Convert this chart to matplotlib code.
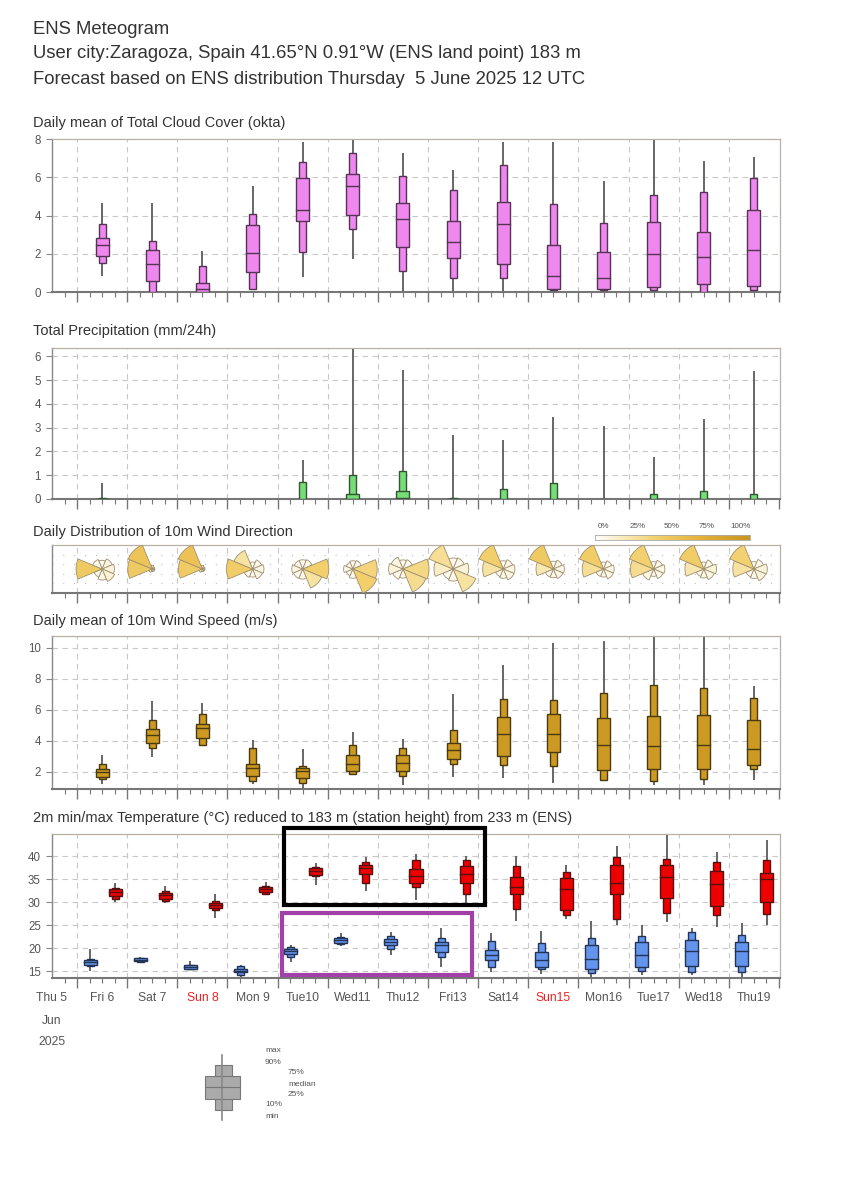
import matplotlib
matplotlib.use('Agg')
import matplotlib.pyplot as plt
import numpy as np
from matplotlib.patches import Rectangle
from matplotlib.colors import LinearSegmentedColormap
import matplotlib.transforms as mtransforms

plt.rcParams['font.family'] = ['Liberation Sans', 'DejaVu Sans']

# ---------------- data ----------------
day_labels = ['Thu 5', 'Fri 6', 'Sat 7', 'Sun 8', 'Mon 9', 'Tue10', 'Wed11', 'Thu12',
              'Fri13', 'Sat14', 'Sun15', 'Mon16', 'Tue17', 'Wed18', 'Thu19']
red_days = ['Sun 8', 'Sun15']

# stats per day (Fri6..Thu19): min, p10, p25, median, p75, p90, max
cloud = [
    (0.84, 1.54, 1.89, 2.47, 2.84, 3.54, 4.67),
    (0.00, 0.00, 0.58, 1.44, 2.19, 2.68, 4.64),
    (0.00, 0.00, 0.00, 0.15, 0.49, 1.37, 2.14),
    (0.10, 0.18, 1.05, 2.05, 3.50, 4.06, 5.53),
    (0.79, 2.07, 3.71, 4.29, 5.95, 6.78, 7.85),
    (1.75, 3.29, 4.03, 5.55, 6.18, 7.27, 8.00),
    (0.00, 1.10, 2.36, 3.80, 4.64, 6.04, 7.27),
    (0.00, 0.74, 1.79, 2.59, 3.71, 5.34, 6.36),
    (0.05, 0.75, 1.49, 3.56, 4.73, 6.65, 7.83),
    (0.00, 0.10, 0.18, 0.82, 2.45, 4.59, 7.85),
    (0.00, 0.10, 0.18, 0.74, 2.10, 3.63, 5.83),
    (0.00, 0.10, 0.26, 1.98, 3.64, 5.08, 8.00),
    (0.00, 0.00, 0.40, 1.84, 3.15, 5.22, 6.83),
    (0.00, 0.10, 0.30, 2.19, 4.29, 5.95, 7.06),
]

precip = [
    (0, 0, 0, 0, 0.01, 0.03, 0.68),
    (0, 0, 0, 0, 0, 0, 0),
    (0, 0, 0, 0, 0, 0, 0),
    (0, 0, 0, 0, 0, 0, 0.02),
    (0, 0, 0, 0, 0, 0.73, 1.64),
    (0, 0, 0, 0.02, 0.21, 1.03, 6.60),
    (0, 0, 0, 0.03, 0.35, 1.17, 5.44),
    (0, 0, 0, 0, 0.01, 0.04, 2.71),
    (0, 0, 0, 0, 0, 0.42, 2.50),
    (0, 0, 0, 0, 0, 0.66, 3.43),
    (0, 0, 0, 0, 0, 0.01, 3.06),
    (0, 0, 0, 0, 0, 0.21, 1.78),
    (0, 0, 0, 0, 0, 0.34, 3.36),
    (0, 0, 0, 0, 0, 0.20, 5.37),
]

wind_speed = [
    (1.25, 1.53, 1.68, 2.00, 2.20, 2.49, 3.08),
    (2.97, 3.57, 3.87, 4.37, 4.75, 5.33, 6.58),
    (3.65, 3.72, 4.19, 4.86, 5.12, 5.72, 6.45),
    (1.25, 1.42, 1.74, 2.28, 2.49, 3.57, 4.04),
    (0.92, 1.29, 1.61, 2.04, 2.26, 2.39, 3.50),
    (1.78, 1.89, 2.06, 2.54, 3.12, 3.72, 4.58),
    (1.14, 1.74, 2.06, 2.58, 3.12, 3.57, 4.15),
    (1.68, 2.49, 2.86, 3.40, 3.87, 4.73, 7.05),
    (1.61, 2.43, 3.03, 4.47, 5.55, 6.73, 8.88),
    (1.29, 2.37, 3.29, 4.47, 5.76, 6.67, 10.34),
    (1.42, 1.51, 2.11, 3.76, 5.50, 7.10, 10.43),
    (1.14, 1.42, 2.22, 3.66, 5.59, 7.59, 10.90),
    (1.14, 1.53, 2.17, 3.72, 5.66, 7.44, 10.90),
    (1.51, 2.22, 2.47, 3.51, 5.38, 6.77, 7.53),
]

tmin = [
    (15.0, 16.1, 16.4, 17.0, 17.5, 17.7, 19.7),
    (16.8, 17.0, 17.2, 17.5, 17.8, 17.9, 18.0),
    (15.2, 15.4, 15.5, 15.9, 16.3, 16.4, 17.2),
    (13.7, 14.2, 14.8, 15.1, 15.5, 16.1, 16.4),
    (17.0, 18.0, 18.7, 19.3, 19.9, 20.2, 20.6),
    (20.4, 20.8, 21.2, 21.7, 22.2, 22.5, 23.3),
    (18.6, 19.7, 20.6, 21.3, 21.9, 22.6, 23.6),
    (15.9, 18.0, 19.1, 20.6, 21.3, 22.2, 24.3),
    (14.9, 15.9, 17.5, 18.6, 19.6, 21.5, 23.3),
    (14.4, 15.4, 15.9, 17.5, 19.1, 21.1, 23.7),
    (13.7, 14.6, 15.5, 17.7, 20.6, 22.2, 25.8),
    (14.2, 15.1, 15.9, 18.6, 21.4, 22.6, 25.1),
    (14.1, 14.8, 16.2, 19.3, 21.7, 23.6, 24.3),
    (13.3, 14.8, 16.1, 19.3, 21.4, 22.8, 25.5),
]

tmax = [
    (30.0, 30.7, 31.3, 32.2, 32.8, 33.0, 34.2),
    (29.9, 30.2, 30.7, 31.6, 32.0, 32.5, 33.5),
    (26.5, 28.2, 28.7, 29.4, 29.8, 30.2, 31.8),
    (31.6, 31.8, 32.2, 32.8, 33.3, 33.5, 34.3),
    (33.8, 35.6, 35.9, 36.7, 37.4, 37.6, 38.6),
    (32.5, 34.2, 36.2, 37.5, 38.1, 38.8, 39.8),
    (30.4, 33.3, 34.2, 35.7, 37.2, 39.1, 40.5),
    (29.6, 31.8, 34.1, 36.2, 37.8, 39.2, 40.1),
    (25.8, 28.6, 31.8, 33.3, 35.4, 37.8, 40.0),
    (26.4, 27.1, 28.2, 32.9, 35.3, 36.5, 38.1),
    (25.1, 26.4, 31.8, 34.2, 38.0, 39.9, 42.3),
    (25.7, 27.6, 30.9, 35.4, 38.0, 39.4, 44.5),
    (24.6, 27.1, 29.1, 34.0, 36.7, 38.7, 40.9),
    (25.1, 27.5, 30.1, 35.1, 36.4, 39.1, 43.4),
]

# wind direction frequency per day (Fri6..Thu19), sectors N, NE, E, SE, S, SW, W, NW
wind_dir = [
    [0.05, 0.08, 0.10, 0.12, 0.08, 0.05, 0.45, 0.07],
    [0.01, 0.005, 0.005, 0.005, 0.005, 0.01, 0.45, 0.51],
    [0.01, 0.005, 0.005, 0.005, 0.005, 0.01, 0.44, 0.52],
    [0.03, 0.06, 0.08, 0.07, 0.04, 0.05, 0.42, 0.25],
    [0.05, 0.06, 0.40, 0.25, 0.06, 0.06, 0.07, 0.05],
    [0.04, 0.05, 0.35, 0.40, 0.05, 0.03, 0.05, 0.03],
    [0.04, 0.05, 0.33, 0.30, 0.04, 0.06, 0.10, 0.08],
    [0.05, 0.06, 0.10, 0.25, 0.06, 0.05, 0.15, 0.28],
    [0.04, 0.06, 0.08, 0.08, 0.05, 0.04, 0.25, 0.40],
    [0.04, 0.06, 0.08, 0.07, 0.05, 0.05, 0.20, 0.45],
    [0.03, 0.05, 0.07, 0.07, 0.04, 0.04, 0.28, 0.42],
    [0.03, 0.05, 0.07, 0.06, 0.03, 0.08, 0.30, 0.38],
    [0.03, 0.06, 0.10, 0.08, 0.05, 0.04, 0.22, 0.42],
    [0.03, 0.06, 0.10, 0.09, 0.05, 0.04, 0.25, 0.38],
]
sector_dirs = [0, 45, 90, 135, 180, 225, 270, 315]
cbar_labels = ['0%', '25%', '50%', '75%', '100%']

# ---------------- figure ----------------
W, H = 850, 1200
fig = plt.figure(figsize=(8.5, 12), dpi=100)
fig.patch.set_facecolor('white')

X0, X1 = 52, 780
XLIM = (0.5, 15.02)

def px_axes(top, bottom):
    return fig.add_axes([X0 / W, 1 - bottom / H, (X1 - X0) / W, (bottom - top) / H])

TXT = '#333333'
TICKC = '#555555'
GRIDC = '#c8c8c8'

def style(ax, ylim, yticks):
    ax.set_xlim(*XLIM)
    ax.set_ylim(*ylim)
    ax.set_xticks(np.arange(1, 16))
    ax.set_xticks([v for v in np.arange(0.75, 15.01, 0.25) if abs(v - round(v)) > 1e-6], minor=True)
    ax.tick_params(axis='x', which='major', length=7, width=1.0, color='#777777', labelbottom=False)
    ax.tick_params(axis='x', which='minor', length=3.5, width=0.8, color='#777777')
    if yticks is not None:
        ax.set_yticks(yticks)
        ax.set_yticklabels([str(v) for v in yticks])
        ax.tick_params(axis='y', which='major', length=4, width=0.8, color='#888888',
                       labelsize=8.3, labelcolor=TICKC, pad=4)
        for y in yticks:
            if y > ylim[0] + 1e-6 and y < ylim[1] - 1e-6:
                ax.axhline(y, color=GRIDC, lw=0.8, ls=(0, (5, 4)), zorder=0)
    else:
        ax.set_yticks([])
    for xv in range(1, 15):
        ax.axvline(xv, color=GRIDC, lw=0.8, ls=(0, (5, 4)), zorder=0)
    for s in ['top', 'right']:
        ax.spines[s].set_color('#b8b0a0')
        ax.spines[s].set_linewidth(0.9)
    ax.spines['left'].set_color('#888888')
    ax.spines['left'].set_linewidth(1.0)
    ax.spines['bottom'].set_color('#777777')
    ax.spines['bottom'].set_linewidth(1.5)

def boxes(ax, xs, stats, color, edge, wide=0.26, narrow=0.14):
    for x, (mn, p10, p25, med, p75, p90, mx) in zip(xs, stats):
        if mx - mn > 0:
            ax.plot([x, x], [mn, mx], color='#666666', lw=1.4, zorder=2, solid_capstyle='butt')
        if p90 - p10 > 0:
            ax.add_patch(Rectangle((x - narrow / 2, p10), narrow, p90 - p10, fc=color, ec=edge, lw=1.0, zorder=3))
        if p75 - p25 > 0:
            ax.add_patch(Rectangle((x - wide / 2, p25), wide, p75 - p25, fc=color, ec=edge, lw=1.0, zorder=4))
            ax.plot([x - wide / 2, x + wide / 2], [med, med], color=edge, lw=1.0, zorder=5)

def title(txt, ypx, size=10.5):
    fig.text(33 / W, 1 - ypx / H, txt, fontsize=size, color=TXT, va='center', ha='left')

# header
HS = 13.3
fig.text(33 / W, 1 - 30 / H, 'ENS Meteogram', fontsize=HS, color=TXT, va='center')
fig.text(33 / W, 1 - 53 / H, 'User city:Zaragoza, Spain 41.65\u00b0N 0.91\u00b0W (ENS land point) 183 m',
         fontsize=HS, color=TXT, va='center')
fig.text(33 / W, 1 - 80 / H, 'Forecast based on ENS distribution Thursday  5 June 2025 12 UTC',
         fontsize=HS, color=TXT, va='center')

xs_mid = np.arange(1, 15) + 0.5

# cloud
ax1 = px_axes(139, 292)
style(ax1, (0, 8), [0, 2, 4, 6, 8])
boxes(ax1, xs_mid, cloud, '#ee88ee', '#553355')
title('Daily mean of Total Cloud Cover (okta)', 123)

# precipitation
ax2 = px_axes(348, 499)
style(ax2, (0, 6.35), [0, 1, 2, 3, 4, 5, 6])
boxes(ax2, xs_mid, precip, '#77dd77', '#335533')
title('Total Precipitation (mm/24h)', 331)

# wind direction
ax3 = px_axes(545, 593)
yh = (XLIM[1] - XLIM[0]) * (593 - 545) / (X1 - X0) / 2
style(ax3, (-yh, yh), None)
for yv in np.linspace(-yh, yh, 6)[1:-1]:
    ax3.axhline(yv, color='#b0b0b0', lw=0.8, ls=(0, (0.8, 9)), zorder=0)
title('Daily Distribution of 10m Wind Direction', 532)
cmap = LinearSegmentedColormap.from_list(
    'wd', [(0, '#ffffff'), (0.2, '#f8e8b4'), (0.4, '#f2cf6a'), (0.7, '#e2b038'), (1.0, '#c8961e')])
Rmax = 0.52
for cx, freqs in zip(xs_mid, wind_dir):
    fmax = max(freqs)
    for d, f in zip(sector_dirs, freqs):
        r = Rmax * np.sqrt(f / fmax)
        th = np.radians(np.linspace(d - 22.5, d + 22.5, 10))
        px = np.concatenate([[cx], cx + r * np.sin(th)])
        py = np.concatenate([[0], r * np.cos(th)])
        ax3.fill(px, py, fc=cmap(f), ec='#a09070', lw=0.6, zorder=3)

# colorbar for wind direction
cax = fig.add_axes([595 / W, 1 - 540 / H, (750 - 595) / W, 5 / H])
cax.imshow(np.linspace(0, 1, 256)[None, :], aspect='auto', cmap=cmap, extent=(0, 1, 0, 1))
cax.set_xticks([]); cax.set_yticks([])
for s in cax.spines.values():
    s.set_color('#aaaaaa'); s.set_linewidth(0.6)
for i, lab in enumerate(cbar_labels):
    fig.text((603 + i * 34.5) / W, 1 - 527 / H, lab, fontsize=5.8, color='#555555', ha='center', va='center')

# wind speed
ax4 = px_axes(636, 789)
style(ax4, (0.9, 10.77), [2, 4, 6, 8, 10])
boxes(ax4, xs_mid, wind_speed, '#cc9922', '#4a3a10')
title('Daily mean of 10m Wind Speed (m/s)', 621)

# temperature
ax5 = px_axes(834, 978)
style(ax5, (13.5, 44.8), [15, 20, 25, 30, 35, 40])
boxes(ax5, np.arange(1, 15) + 0.26, tmin, '#6495ed', '#223355')
boxes(ax5, np.arange(1, 15) + 0.76, tmax, '#ee0000', '#551111')
title('2m min/max Temperature (\u00b0C) reduced to 183 m (station height) from 233 m (ENS)', 818)

# day labels
tr = mtransforms.blended_transform_factory(ax5.transData, fig.transFigure)
for i, lab in enumerate(day_labels):
    ax5.text(i + 0.5, 1 - 998 / H, lab, transform=tr, ha='center', va='center', fontsize=8.7,
             color='#ee2222' if lab in red_days else TICKC)
ax5.text(0.5, 1 - 1021 / H, 'Jun', transform=tr, ha='center', va='center', fontsize=8.7, color=TICKC)
ax5.text(0.5, 1 - 1042 / H, '2025', transform=tr, ha='center', va='center', fontsize=8.7, color=TICKC)

# highlight rectangles
ax5.add_patch(Rectangle((5.12, 29.3), 9.14 - 5.12, 46.1 - 29.3, fill=False, ec='black', lw=3,
                        clip_on=False, zorder=10))
ax5.add_patch(Rectangle((5.08, 14.1), 8.88 - 5.08, 27.6 - 14.1, fill=False, ec='#a040a8', lw=3,
                        clip_on=False, zorder=10))

# legend box-plot
lax = fig.add_axes([190 / W, 1 - 1125 / H, 150 / W, 80 / H])
lax.set_xlim(0, 150); lax.set_ylim(1125, 1045); lax.axis('off')
lax.plot([32, 32], [1055, 1120], color='#888888', lw=1.2)
lax.add_patch(Rectangle((25, 1065), 17, 45, fc='#aaaaaa', ec='#777777', lw=0.8))
lax.add_patch(Rectangle((15, 1076), 35, 23, fc='#aaaaaa', ec='#777777', lw=0.8))
lax.plot([15, 50], [1087, 1087], color='#777777', lw=0.8)
for txt, xx, yy in [('max', 75, 1050), ('90%', 75, 1062), ('75%', 98, 1073), ('median', 98, 1084),
                    ('25%', 98, 1095), ('10%', 75, 1104), ('min', 75, 1116)]:
    lax.text(xx, yy, txt, fontsize=6, color='#555555', va='center', ha='left')

fig.savefig('out.png', dpi=100, facecolor='white')
